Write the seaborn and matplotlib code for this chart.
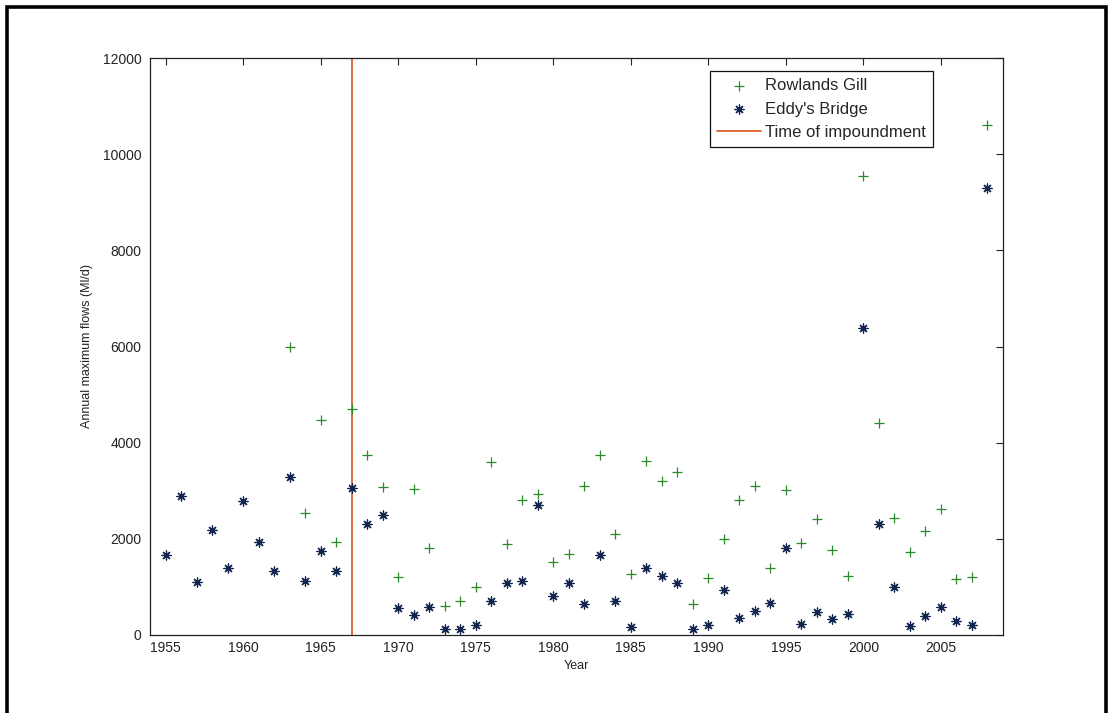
import numpy as np
import pandas as pd
import matplotlib
matplotlib.use("Agg")
import matplotlib.pyplot as plt
from matplotlib.patches import Rectangle
import seaborn as sns

# ---- data ----
eddy_years = list(range(1955, 2009))
eddy_flows = [1670, 2890, 1100, 2190, 1400, 2780, 1930, 1340, 3285, 1120,
              1750, 1340, 3050, 2310, 2500,
              556, 417, 576, 118, 118, 215, 715, 1076, 1132, 2694,
              812, 1076, 646, 1667, 715, 160, 1389,
              1236, 1076, 125, 208, 937, 347, 500, 660, 1819, 229,
              486, 340, 431,
              6380, 2312, 1007, 194, 403, 576, 292, 208, 9300]

rowlands_years = list(range(1963, 2009))
rowlands_flows = [5980, 2527, 4476, 1928, 4707, 3740, 3083,
                  1215, 3035, 1805, 604, 715, 993, 3604, 1889, 2812, 2930,
                  1528, 1687, 3104, 3743, 2104, 1271, 3625,
                  3194, 3382, 639, 1194, 2000, 2812, 3104, 1403, 3007, 1910,
                  2410, 1771, 1236,
                  9540, 4410, 2430, 1722, 2167, 2625, 1167, 1215, 10600]

impoundment_year = 1967
x_ticks = list(range(1955, 2010, 5))
y_ticks = list(range(0, 12001, 2000))

rowlands = pd.DataFrame({"Year": rowlands_years, "Flow": rowlands_flows})
eddy = pd.DataFrame({"Year": eddy_years, "Flow": eddy_flows})

# ---- styling ----
sns.set_style("white")
plt.rcParams["font.family"] = ["Liberation Sans", "DejaVu Sans"]

W, H = 1108, 713
fig = plt.figure(figsize=(W / 100, H / 100), dpi=100)
ax = fig.add_axes([150 / W, 1 - 635 / H, (1003 - 150) / W, (635 - 58) / H])

green = "#2b8a2b"
navy = "#132650"
orange = "#D95319"

sns.scatterplot(data=rowlands, x="Year", y="Flow", ax=ax, marker="+",
                color=green, s=55, linewidth=0.9, label="Rowlands Gill",
                zorder=3)
sns.scatterplot(data=eddy, x="Year", y="Flow", ax=ax, marker=(8, 2, 0),
                color=navy, s=42, linewidth=0.9, label="Eddy's Bridge",
                zorder=3)
ax.axvline(impoundment_year, color=orange, lw=1.2,
           label="Time of impoundment", zorder=2)

ax.set_xlim(1954, 2009)
ax.set_ylim(0, 12000)
ax.set_xticks(x_ticks)
ax.set_yticks(y_ticks)
ax.set_xticklabels([str(t) for t in x_ticks])
ax.set_yticklabels([str(t) for t in y_ticks])

ax.tick_params(axis="both", direction="in", length=5, width=0.8,
               top=True, right=True, labelsize=10, colors="#222222")
ax.tick_params(axis="x", pad=4)
ax.tick_params(axis="y", pad=6)
for sp in ax.spines.values():
    sp.set_visible(True)
    sp.set_color("#222222")
    sp.set_linewidth(0.9)

ax.set_xlabel("Year", fontsize=9, color="#222222", labelpad=4)
ax.set_ylabel("Annual maximum flows (Ml/d)", fontsize=9, color="#222222",
              labelpad=7)

leg = ax.legend(loc="upper right", bbox_to_anchor=(0.918, 0.978),
                borderaxespad=0, fontsize=12, frameon=True, fancybox=False,
                edgecolor="#111111", framealpha=1, handlelength=2.6,
                handletextpad=0.25, labelspacing=0.5, borderpad=0.45)
leg.get_frame().set_linewidth(0.9)

# outer figure frame
fig.add_artist(Rectangle((7 / W, -0.05), (1106 - 7) / W, 1.05 - 6.7 / H,
                         transform=fig.transFigure, fill=False,
                         edgecolor="black", lw=2.6, clip_on=False))

fig.savefig("out.png", dpi=100)
